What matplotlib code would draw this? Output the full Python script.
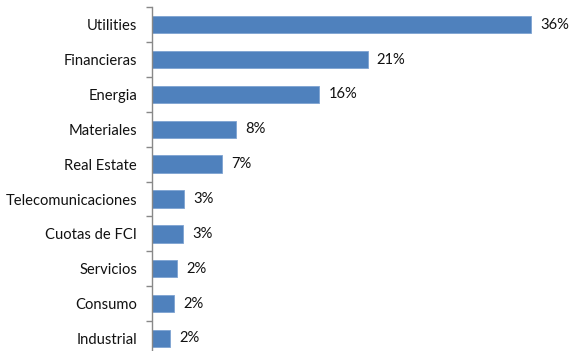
import numpy as np
import matplotlib.pyplot as plt

categorias = ["Utilities", "Financieras", "Energia", "Materiales", "Real Estate",
              "Telecomunicaciones", "Cuotas de FCI", "Servicios", "Consumo", "Industrial"]
valores = [36.0, 20.5, 15.9, 8.0, 6.65, 3.07, 2.94, 2.37, 2.09, 1.71]
etiquetas = ["36%", "21%", "16%", "8%", "7%", "3%", "3%", "2%", "2%", "2%"]

plt.rcParams['font.family'] = ['Lato', 'DejaVu Sans']

fig = plt.figure(figsize=(5.69, 3.51), dpi=100)
ax = fig.add_axes([152 / 569, -4.9 / 351, 421 / 569, 348.6 / 351])

y = np.arange(len(categorias))
ax.barh(y, valores, height=0.5, color='#4F81BD', edgecolor='#7EA3D2', linewidth=0.6)
for yi, v, t in zip(y, valores, etiquetas):
    ax.text(v + 0.85, yi, t, va='center', ha='left', fontsize=10.6, color='#111111')

ax.set_xlim(0, 40)
ax.set_ylim(len(categorias) - 0.5, -0.5)

ax.set_yticks(y)
ax.set_yticklabels(categorias, fontsize=10.6, color='#111111')
ax.set_yticks(np.arange(len(categorias) + 1) - 0.5, minor=True)
ax.tick_params(axis='y', which='major', length=0, pad=10.8)
ax.tick_params(axis='y', which='minor', length=4, color='#888888', width=1)
ax.set_xticks([])

for s in ['top', 'right', 'bottom']:
    ax.spines[s].set_visible(False)
ax.spines['left'].set_color('#888888')
ax.spines['left'].set_linewidth(1)

fig.savefig("out.png", dpi=100)
